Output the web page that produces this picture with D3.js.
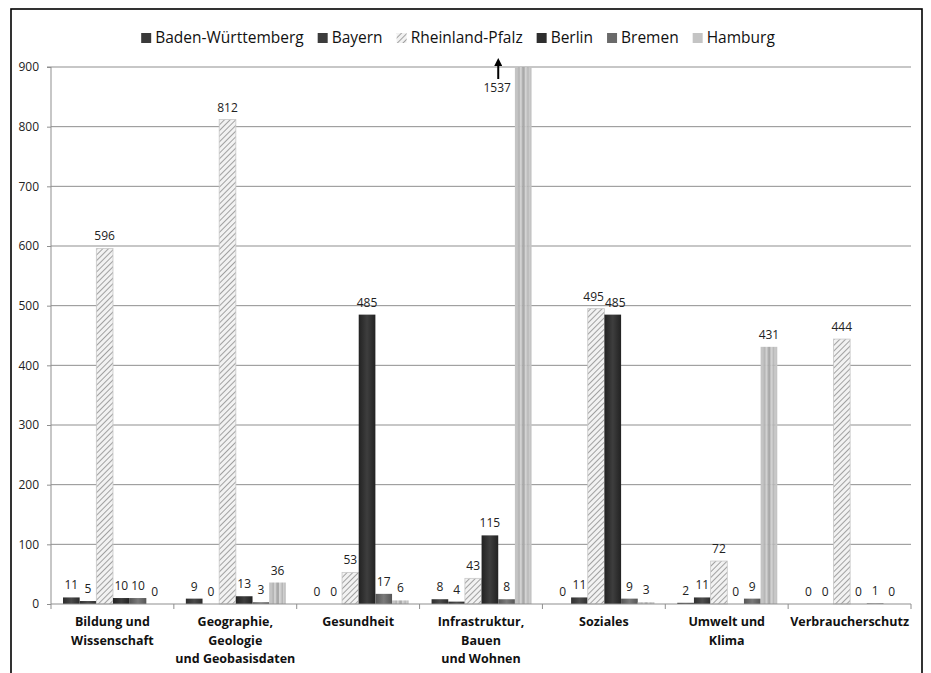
<!DOCTYPE html>
<html><head><meta charset="utf-8">
<script src="https://cdn.jsdelivr.net/npm/d3@7"></script>
<style>body{margin:0;background:#fff} text{-webkit-font-smoothing:antialiased}</style>
</head><body><svg id="c" width="931" height="673"></svg>
<script>
const categories = ["Bildung und|Wissenschaft","Geographie,|Geologie|und Geobasisdaten","Gesundheit","Infrastruktur,|Bauen|und Wohnen","Soziales","Umwelt und|Klima","Verbraucherschutz"];
const series = ["Baden-Württemberg","Bayern","Rheinland-Pfalz","Berlin","Bremen","Hamburg"];
const badenWuerttemberg = [11,9,0,8,0,2,0];
const bayern = [5,0,0,4,11,11,0];
const rheinlandPfalz = [596,812,53,43,495,72,444];
const berlin = [10,13,485,115,485,0,0];
const bremen = [10,3,17,8,9,9,1];
const hamburg = [0,36,6,1537,3,431,0];
const yTicks = [0,100,200,300,400,500,600,700,800,900];

const values = [badenWuerttemberg,bayern,rheinlandPfalz,berlin,bremen,hamburg];
const W=931,H=673, L=51, R=911, T=67, B=604;
const svg = d3.select("#c");
const defs = svg.append("defs");

const grads = [
  ["g0","#2c2c2c","#4a4a4a"],
  ["g1","#2f2f2f","#4d4d4d"],
  null,
  ["g3","#222","#3e3e3e"],
  ["g4","#555","#7a7a7a"],
  null
];
grads.forEach(g=>{
  if(!g) return;
  const lg = defs.append("linearGradient").attr("id",g[0]).attr("x1","0").attr("x2","1").attr("y1","0").attr("y2","0");
  lg.append("stop").attr("offset","0").attr("stop-color",g[1]);
  lg.append("stop").attr("offset","0.5").attr("stop-color",g[2]);
  lg.append("stop").attr("offset","1").attr("stop-color",g[1]);
});
const hp = defs.append("pattern").attr("id","hstripe").attr("patternUnits","objectBoundingBox").attr("width",1).attr("height",1);
[["#c4c4c4",0,3],["#b4b4b4",3,2],["#cfcfcf",5,2],["#a9a9a9",7,3],["#cfcfcf",10,2],["#b4b4b4",12,2],["#c4c4c4",14,3]].forEach(s=>{
  hp.append("rect").attr("x",s[1]).attr("y",0).attr("width",s[2]).attr("height",2000).attr("fill",s[0]);
});
const hat = defs.append("pattern").attr("id","hatch").attr("patternUnits","userSpaceOnUse").attr("width",4).attr("height",4).attr("patternTransform","rotate(45)");
hat.append("rect").attr("width",4).attr("height",4).attr("fill","#f2f2f2");
hat.append("line").attr("x1",0).attr("y1",0).attr("x2",0).attr("y2",4).attr("stroke","#8c8c8c").attr("stroke-width",1.6);
defs.append("marker").attr("id","arr").attr("viewBox","0 0 10 10").attr("refX",5).attr("refY",5)
  .attr("markerWidth",4).attr("markerHeight",4).attr("orient","auto-start-reverse")
  .append("path").attr("d","M0,0 L10,5 L0,10 z").attr("fill","#000");

const fills = ["url(#g0)","url(#g1)","url(#hatch)","url(#g3)","url(#g4)","url(#hstripe)"];
const legendFills = ["#3a3a3a","#3c3c3c","url(#hatch)","#2e2e2e","#6a6a6a","#c4c4c4"];

svg.append("rect").attr("x",11).attr("y",9).attr("width",911).attr("height",700).attr("fill","none").attr("stroke","#000").attr("stroke-width",1.6);

const x0 = d3.scaleBand().domain(d3.range(categories.length)).range([L,R]);
const x1 = d3.scaleBand().domain(d3.range(series.length)).range([12,112]);
const y = d3.scaleLinear().domain([0,900]).range([B,T]);
const yMax = 900;

svg.append("g").selectAll("line").data(yTicks.filter(d=>d>0)).join("line")
  .attr("x1",L).attr("x2",R).attr("y1",d=>y(d)).attr("y2",d=>y(d))
  .attr("stroke","#8f8f8f").attr("stroke-width",1);

const ya = svg.append("g").attr("transform",`translate(${L},0)`)
  .call(d3.axisLeft(y).tickValues(yTicks).tickSize(4).tickPadding(8).tickFormat(d3.format("d")));
ya.select(".domain").attr("stroke","#8f8f8f").attr("d",`M-4,${T}H0V${B}`);
ya.selectAll(".tick line").attr("stroke","#8f8f8f");
ya.selectAll("text").attr("font-family","'Open Sans',sans-serif").attr("font-size",12).attr("fill","#222");

const gGroups = svg.append("g").selectAll("g").data(categories).join("g")
  .attr("transform",(d,i)=>`translate(${x0(i)},0)`);
gGroups.each(function(c,ci){
  const g = d3.select(this);
  const labels = [];
  series.forEach((s,si)=>{
    const v = values[si][ci];
    const vv = Math.min(v,yMax);
    const bx = x1(si), bw = x1.bandwidth();
    if(v>0){
      g.append("rect").attr("x",bx).attr("y",y(vv)).attr("width",bw).attr("height",B-y(vv))
        .attr("fill",fills[si]).attr("stroke",si===2?"#c8c8c8":"none").attr("stroke-width",0.8);
    }
    if(v>yMax){
      const lx = bx + bw/2 - 26;
      g.append("text").attr("x",lx).attr("y",y(yMax)+25).attr("text-anchor","middle")
        .attr("font-family","'Open Sans',sans-serif").attr("font-size",12).attr("fill","#222").text(v);
      g.append("line").attr("x1",lx+1).attr("x2",lx+1).attr("y1",y(yMax)+12).attr("y2",y(yMax)-5)
        .attr("stroke","#000").attr("stroke-width",2).attr("marker-end","url(#arr)");
    } else {
      const t = g.append("text").attr("x",bx+bw/2).attr("y",y(vv)-8).attr("text-anchor","middle")
        .attr("font-family","'Open Sans',sans-serif").attr("font-size",12)
        .attr("fill","#222").text(v);
      labels.push({t, x: bx+bw/2, y: y(vv)-8, w: t.node().getComputedTextLength()});
    }
  });
  // resolve horizontal collisions between neighbouring labels at similar heights
  for(let i=0;i<labels.length-1;i++){
    const a=labels[i], b=labels[i+1];
    if(Math.abs(a.y-b.y)<12){
      const gap = (b.x-b.w/2)-(a.x+a.w/2);
      if(gap<1){
        const s=(1-gap)/2;
        a.x-=s; b.x+=s;
        a.t.attr("x",a.x); b.t.attr("x",b.x);
      }
    }
  }
});

svg.append("line").attr("x1",L).attr("x2",R).attr("y1",B).attr("y2",B).attr("stroke","#8f8f8f");
svg.append("g").selectAll("line").data(d3.range(categories.length+1)).join("line")
  .attr("x1",i=>i<categories.length?x0(i):R).attr("x2",i=>i<categories.length?x0(i):R)
  .attr("y1",B).attr("y2",B+5).attr("stroke","#8f8f8f");
svg.append("g").selectAll("text").data(categories).join("text")
  .attr("x",(d,i)=>x0(i)+x0.bandwidth()/2).attr("y",626)
  .attr("text-anchor","middle").attr("font-family","'Open Sans',sans-serif").attr("font-weight","bold")
  .attr("font-size",12.5).attr("fill","#111")
  .each(function(d){
    const t=d3.select(this);
    d.split("|").forEach((ln,k)=>{
      t.append("tspan").attr("x",t.attr("x")).attr("dy",k===0?0:18.5).text(ln);
    });
  });

const lg = svg.append("g");
let lx = 0;
series.forEach((s,i)=>{
  const it = lg.append("g");
  it.append("rect").attr("x",0).attr("y",-10).attr("width",10).attr("height",10).attr("fill",legendFills[i]);
  const t = it.append("text").attr("x",14).attr("y",0).attr("font-family","'Open Sans',sans-serif")
    .attr("font-size",15.5).attr("fill","#111").text(s);
  const w = 14 + t.node().getComputedTextLength();
  it.attr("transform",`translate(${lx},0)`);
  lx += w + 14;
});
const totalW = lx - 14;
lg.attr("transform",`translate(${458 - totalW/2},43)`);
</script></body></html>
